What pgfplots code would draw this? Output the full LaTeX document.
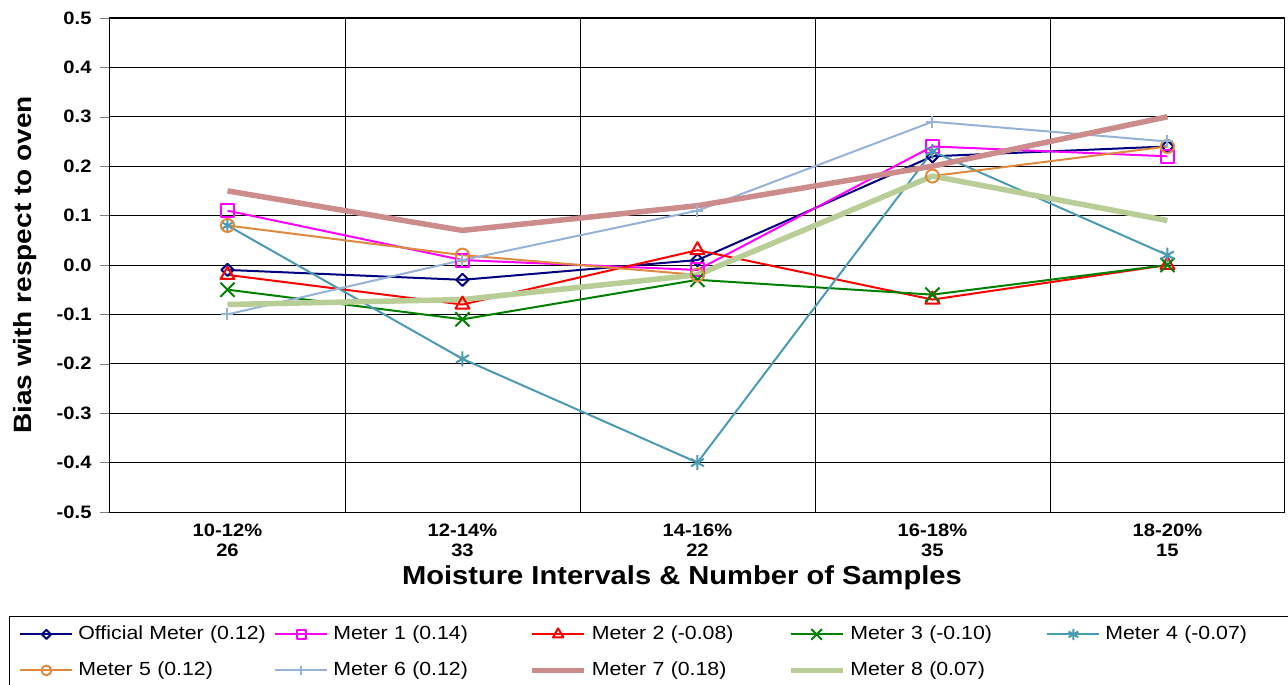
\documentclass[border=0pt]{standalone}
\usepackage{pgfplots}
\pgfplotsset{compat=1.18}
\usepackage{fontspec}
\setmainfont{Liberation Sans}[FakeStretch=1.12]

\definecolor{cNavy}{HTML}{000080}
\definecolor{cMag}{HTML}{FF00FF}
\definecolor{cRed}{HTML}{FF0000}
\definecolor{cGreen}{HTML}{008000}
\definecolor{cTeal}{HTML}{4A9BB2}
\definecolor{cOrange}{HTML}{DE8A3E}
\definecolor{cSteel}{HTML}{95B3D7}
\definecolor{cRose}{HTML}{CD8C8C}
\definecolor{cOlive}{HTML}{B9CD96}

\begin{document}
\begin{tikzpicture}
\useasboundingbox (-110pt,-173pt) rectangle (1178pt,512pt);
\begin{axis}[
    at={(0pt,0pt)}, anchor=south west,
    scale only axis,
    width=1175pt, height=494pt,
    xmin=-0.5, xmax=4.5,
    ymin=-0.5, ymax=0.5,
    xtick={0,1,2,3,4},
    xticklabels={{10-12\%\\26},{12-14\%\\33},{14-16\%\\22},{16-18\%\\35},{18-20\%\\15}},
    xtick style={draw=none},
    extra x ticks={0.5,1.5,2.5,3.5},
    extra x tick labels={},
    extra x tick style={grid=major, major tick length=0pt},
    ytick={-0.5,-0.4,-0.3,-0.2,-0.1,0,0.1,0.2,0.3,0.4,0.5},
    ymajorgrids=true,
    tick pos=left,
    tick align=outside,
    major tick length=10pt,
    major grid style={black, line width=0.8pt},
    axis line style={black, line width=1pt},
    xticklabel style={align=center, font=\fontsize{18}{20}\selectfont\bfseries, inner sep=0pt, yshift=-2pt},
    yticklabel style={font=\fontsize{18}{21}\selectfont\bfseries, xshift=-5pt,
        /pgf/number format/.cd, fixed, fixed zerofill, precision=1, assume math mode=true},
    xlabel={Moisture Intervals \& Number of Samples},
    ylabel={Bias with respect to oven},
    every axis x label/.style={at={(axis description cs:0.4868,-0.133)}, anchor=center,
        font=\fontsize{26}{30}\selectfont\bfseries},
    every axis y label/.style={at={(axis description cs:-0.0723,0.5)}, rotate=90, anchor=center,
        font=\fontsize{25}{30}\selectfont\bfseries},
    legend columns=5,
    legend cell align=left,
    legend image code/.code={
        \draw[mark repeat=2, mark phase=2, every mark/.append style={scale=0.75}, #1]
            plot coordinates {(0pt,0pt) (26pt,0pt) (52pt,0pt)};
    },
    legend style={
        at={(-0.08596,-0.21053)}, anchor=north west,
        draw=black, line width=0.8pt,
        inner xsep=10pt, inner ysep=6pt, row sep=12pt,
        font=\fontsize{19}{22}\selectfont,
        nodes={text height=14pt, text depth=4pt, inner ysep=3pt, inner xsep=3pt},
        /tikz/every odd column/.append style={column sep=2pt},
        /tikz/every even column/.append style={column sep=0pt, text width=193pt},
        /tikz/column 10/.append style={text width=174pt},
    },
]

\addplot[cNavy, line width=2pt, line join=round, mark=square, mark size=4.3pt,
    mark options={solid, rotate=45}]
    coordinates {(0,-0.01) (1,-0.03) (2,0.01) (3,0.22) (4,0.24)};
\addlegendentry{Official Meter (0.12)}

\addplot[cMag, line width=2pt, line join=round, mark=square, mark size=6.5pt,
    mark options={solid}]
    coordinates {(0,0.11) (1,0.01) (2,-0.01) (3,0.24) (4,0.22)};
\addlegendentry{Meter 1 (0.14)}

\addplot[cRed, line width=2pt, line join=round, mark=triangle, mark size=8pt,
    mark options={solid}]
    coordinates {(0,-0.02) (1,-0.08) (2,0.03) (3,-0.07) (4,0.00)};
\addlegendentry{Meter 2 (-0.08)}

\addplot[cGreen, line width=2pt, line join=round, mark=x, mark size=10pt,
    mark options={solid}]
    coordinates {(0,-0.05) (1,-0.11) (2,-0.03) (3,-0.06) (4,0.00)};
\addlegendentry{Meter 3 (-0.10)}

\addplot[cTeal, line width=2pt, line join=round, mark=asterisk, mark size=7.5pt,
    mark options={solid}]
    coordinates {(0,0.08) (1,-0.19) (2,-0.40) (3,0.23) (4,0.02)};
\addlegendentry{Meter 4 (-0.07)}

\addplot[cOrange, line width=2pt, line join=round, mark=o, mark size=6.5pt,
    mark options={solid}]
    coordinates {(0,0.08) (1,0.02) (2,-0.02) (3,0.18) (4,0.24)};
\addlegendentry{Meter 5 (0.12)}

\addplot[cSteel, line width=2pt, line join=round, mark=+, mark size=6pt,
    mark options={solid}]
    coordinates {(0,-0.10) (1,0.01) (2,0.11) (3,0.29) (4,0.25)};
\addlegendentry{Meter 6 (0.12)}

\addplot[cRose, line width=5.5pt, line join=round, no marks]
    coordinates {(0,0.15) (1,0.07) (2,0.12) (3,0.20) (4,0.30)};
\addlegendentry{Meter 7 (0.18)}

\addplot[cOlive, line width=5.5pt, line join=round, no marks]
    coordinates {(0,-0.08) (1,-0.07) (2,-0.02) (3,0.18) (4,0.09)};
\addlegendentry{Meter 8 (0.07)}

\end{axis}
\end{tikzpicture}
\end{document}
